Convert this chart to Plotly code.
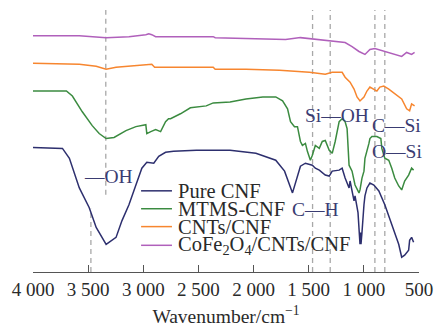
import plotly.graph_objects as go

# ---------------- data (relative transmittance, a.u.) ----------------
pure_wn = [4000, 3733, 3670, 3580, 3490, 3427, 3337, 3247, 3193, 3130, 3067, 3013, 2968, 2905,
           2860, 2798, 2726, 2519, 2213, 1979, 1799, 1719, 1647, 1602, 1575, 1530, 1467, 1440,
           1404, 1350, 1314, 1287, 1224, 1197, 1170, 1134, 1125, 1089, 1080, 1053, 1044, 1035,
           1030, 1026, 1017, 1008, 999, 990, 972, 945, 909, 864, 810, 747, 684, 657, 630, 594,
           585, 567, 549]
pure_t = [126, 125, 115, 85, 65, 45, 28, 35, 52, 68, 88, 105, 111, 110,
          117, 121, 122, 123, 123, 120, 113, 102, 80, 98, 107, 110, 108, 105,
          103, 98, 97, 102, 103, 105, 95, 85, 92, 72, 77, 60, 45, 28,
          40, 28, 40, 60, 68, 77, 85, 90, 88, 82, 68, 48, 28, 15, 17, 22,
          32, 35, 30]

mtms_wn = [4000, 3697, 3643, 3553, 3463, 3400, 3337, 3265, 3157, 3067, 2977, 2968, 2932, 2888,
           2843, 2798, 2771, 2753, 2663, 2573, 2429, 2366, 2213, 2069, 1916, 1799, 1737, 1692,
           1665, 1629, 1602, 1575, 1557, 1530, 1512, 1485, 1467, 1440, 1404, 1377, 1350, 1314,
           1287, 1260, 1224, 1197, 1170, 1152, 1134, 1107, 1080, 1044, 1035, 1017, 999, 990,
           954, 945, 927, 882, 846, 837, 810, 774, 747, 720, 684, 657, 630, 594, 567, 549]
mtms_t = [183, 183, 178, 162, 148, 140, 135, 136, 143, 147, 149, 140, 142, 144,
          142, 152, 155, 155, 160, 166, 168, 171, 172, 175, 177, 177, 173, 165,
          152, 147, 147, 132, 128, 130, 122, 113, 118, 128, 125, 132, 133, 123,
          120, 132, 152, 155, 152, 145, 108, 102, 88, 80, 83, 95, 102, 115,
          130, 135, 137, 137, 135, 125, 115, 113, 105, 95, 87, 83, 92, 98, 105, 103]

cnt_wn = [4000, 3580, 3427, 3337, 3247, 3130, 2977, 2923, 2897, 2834, 2366, 2348, 2069, 1764,
          1575, 1494, 1350, 1287, 1197, 1170, 1125, 1089, 1062, 1035, 999, 972, 945, 909,
          882, 855, 819, 774, 720, 657, 612, 585, 567, 540]
cnt_t = [211, 210, 208, 205, 207, 208, 209, 210, 207, 207, 207, 205, 205, 204,
         203, 202, 200, 202, 202, 197, 192, 185, 177, 173, 177, 183, 187, 185,
         183, 187, 188, 185, 180, 175, 165, 163, 170, 168]

cofe_wn = [4000, 3580, 3337, 3130, 2977, 2950, 2923, 2888, 2771, 2366, 2348, 1916, 1710, 1575,
           1350, 1170, 1107, 1044, 990, 945, 900, 810, 720, 657, 612, 567, 540]
cofe_t = [239, 239, 237, 238, 240, 241, 240, 238, 238, 238, 237, 236, 235, 237,
          234, 232, 228, 223, 220, 225, 226, 223, 220, 218, 222, 220, 222]

series_names = ["Pure CNF", "MTMS-CNF", "CNTs/CNF", "CoFe<sub>2</sub>O<sub>4</sub>/CNTs/CNF"]
series_colors = ["#2d2f6e", "#3b8b40", "#f7862f", "#b060bb"]

tick_vals = [4000, 3500, 3000, 2500, 2000, 1500, 1000, 500]
tick_text = ["4 000", "3 500", "3 000", "2 500", "2 000", "1 500", "1 000", "500"]

# reference band positions (dashed guide lines)
band_lines = [1465, 1305, 900, 810]
oh_upper = 3340
oh_lower = 3475

FONT = "Liberation Serif"
NAVY_TXT = "#3a3c72"
LEG_TXT = "#2a2a2a"

fig = go.Figure()
for wn, t, name, col in zip([pure_wn, mtms_wn, cnt_wn, cofe_wn],
                            [pure_t, mtms_t, cnt_t, cofe_t],
                            series_names, series_colors):
    fig.add_trace(go.Scatter(x=wn, y=t, mode="lines", name=name,
                             line=dict(color=col, width=1.5), showlegend=False))

shapes = []
dash_style = dict(color="#a8a8a8", width=1.3, dash="5px,4px")
for b in band_lines:
    shapes.append(dict(type="line", xref="x", yref="y", x0=b, x1=b, y0=0, y1=265,
                       line=dash_style, layer="below"))
shapes.append(dict(type="line", xref="x", yref="y", x0=oh_upper, x1=oh_upper, y0=78, y1=265,
                   line=dash_style, layer="below"))
shapes.append(dict(type="line", xref="x", yref="y", x0=oh_lower, x1=oh_lower, y0=0, y1=64,
                   line=dash_style, layer="below"))

# manual legend (line samples + labels)
leg_y = [0.304, 0.237, 0.170, 0.100]
annotations = []
for name, col, yy in zip(series_names, series_colors, leg_y):
    shapes.append(dict(type="line", xref="paper", yref="paper", x0=0.280, x1=0.360,
                       y0=yy, y1=yy, line=dict(color=col, width=1.5)))
    annotations.append(dict(xref="paper", yref="paper", x=0.370, y=yy, text=name,
                            showarrow=False, xanchor="left", yanchor="middle",
                            font=dict(family=FONT, size=20.5, color=LEG_TXT)))

band_labels = [("—OH", 3553, 97, "left"), ("Si—OH", 1243, 158, "center"),
               ("C—Si", 700, 148, "center"), ("O—Si", 700, 122, "center"),
               ("C—H", 1440, 63, "center")]
for txt, x, y, anc in band_labels:
    annotations.append(dict(xref="x", yref="y", x=x, y=y, text=txt, showarrow=False,
                            xanchor=anc, yanchor="middle",
                            font=dict(family=FONT, size=19.5, color=NAVY_TXT)))

fig.update_layout(
    width=438, height=329,
    margin=dict(l=33, r=16, t=5, b=54),
    paper_bgcolor="white", plot_bgcolor="white",
    shapes=shapes, annotations=annotations,
    xaxis=dict(range=[4000, 500], tickvals=tick_vals, ticktext=tick_text,
               ticks="inside", ticklen=7, tickwidth=1.3, tickcolor="#555",
               showline=True, linecolor="#555", linewidth=1.3,
               showgrid=False, zeroline=False,
               tickfont=dict(family=FONT, size=19, color="#2a2a2a"),
               title=dict(text="Wavenumber/cm<sup>−1</sup>", standoff=10,
                          font=dict(family=FONT, size=19.5, color="#2a2a2a"))),
    yaxis=dict(range=[0, 270], visible=False, showgrid=False, zeroline=False),
)

fig.write_html("out.html", config={"displayModeBar": False},
               post_script="document.body.style.margin='0px';document.body.style.overflow='hidden';")
